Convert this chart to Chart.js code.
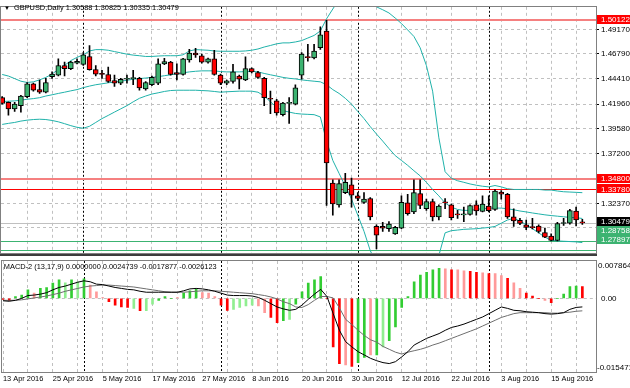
<!DOCTYPE html>
<html><head><meta charset="utf-8">
<script src="https://cdn.jsdelivr.net/npm/chart.js@4.4.0/dist/chart.umd.min.js"></script>
<style>
html,body{margin:0;padding:0;background:#fff;overflow:hidden;}
#wrap{position:relative;width:630px;height:388px;background:#fff;}
canvas{position:absolute;left:0;}
#main{top:0;}
#macd{top:256px;}
</style></head><body>
<div id="wrap">
<canvas id="main" width="630" height="260"></canvas>
<canvas id="macd" width="630" height="132"></canvas>
</div>
<script>
// ---------- DATA ----------
const symbolTitle = 'GBPUSD,Daily 1.30588 1.30825 1.30335 1.30479';
const macdTitle = 'MACD-2 (13,17,9) 0.0000000 0.0024739 -0.0017877 -0.0026123';
const xTickLabels = ['13 Apr 2016','25 Apr 2016','5 May 2016','17 May 2016','27 May 2016','8 Jun 2016','20 Jun 2016','30 Jun 2016','12 Jul 2016','22 Jul 2016','3 Aug 2016','15 Aug 2016'];
const monthStarts = [13,35,57,78];
const priceTicks = [1.29990,1.32370,1.34790,1.37200,1.39580,1.41960,1.44410,1.46790,1.49170];

const opens = [1.4257,1.4211,1.4149,1.4180,1.4267,1.4391,1.4335,1.4310,1.4460,1.4475,
1.4568,1.4537,1.4590,1.4578,1.4655,1.4528,1.4491,1.4481,1.4422,1.4397,
1.4435,1.4441,1.4444,1.4341,1.4382,1.4397,1.4584,1.4600,1.4500,1.4481,
1.4621,1.4687,1.4662,1.4600,1.4631,1.4475,1.4397,1.4413,1.4466,1.4428,
1.4537,1.4500,1.4444,1.4245,1.4226,1.4093,1.4202,1.4195,1.4475,1.4646,
1.4640,1.4739,1.4901,1.3433,1.3222,1.3340,1.3415,1.3309,1.3247,1.3284,
1.3014,1.3014,1.2992,1.2942,1.2998,1.3241,1.3154,1.3331,1.3185,1.3253,
1.3107,1.3244,1.3222,1.3129,1.3126,1.3129,1.3222,1.3160,1.3210,1.3178,
1.3346,1.3325,1.3107,1.3073,1.3030,1.3005,1.3017,1.2955,1.2920,1.2880,
1.3042,1.3045,1.3163,1.30588];
const highs = [1.4267,1.4217,1.4211,1.4279,1.4404,1.4397,1.4428,1.4444,1.4506,1.4631,
1.4600,1.4609,1.4631,1.4693,1.4761,1.4568,1.4522,1.4553,1.4475,1.4444,
1.4475,1.4522,1.4453,1.4413,1.4466,1.4631,1.4637,1.4609,1.4584,1.4637,
1.4724,1.4733,1.4677,1.4640,1.4714,1.4484,1.4428,1.4578,1.4475,1.4652,
1.4546,1.4512,1.4453,1.4320,1.4242,1.4211,1.4257,1.4382,1.4693,1.4771,
1.4771,1.4942,1.5004,1.3465,1.3465,1.3527,1.3480,1.3340,1.3340,1.3293,
1.3030,1.3054,1.3061,1.3014,1.3309,1.3325,1.3465,1.3465,1.3278,1.3278,
1.3222,1.3284,1.3231,1.3169,1.3200,1.3222,1.3262,1.3309,1.3309,1.3371,
1.3359,1.3334,1.3185,1.3092,1.3076,1.3092,1.3030,1.2998,1.2942,1.3054,
1.3092,1.3178,1.3200,1.30825];
const lows = [1.4195,1.4087,1.4124,1.4118,1.4257,1.4320,1.4298,1.4304,1.4444,1.4466,
1.4466,1.4528,1.4584,1.4568,1.4522,1.4466,1.4444,1.4404,1.4366,1.4382,
1.4397,1.4382,1.4329,1.4329,1.4373,1.4382,1.4575,1.4475,1.4428,1.4475,
1.4600,1.4646,1.4590,1.4590,1.4475,1.4382,1.4382,1.4397,1.4341,1.4422,
1.4497,1.4444,1.4180,1.4102,1.4087,1.4080,1.4009,1.4186,1.4435,1.4609,
1.4631,1.4724,1.3216,1.3123,1.3200,1.3331,1.3200,1.3262,1.3237,1.3076,
1.2796,1.2967,1.2967,1.2936,1.2992,1.3123,1.3138,1.3185,1.3169,1.3067,
1.3076,1.3185,1.3076,1.3092,1.3061,1.3123,1.3123,1.3154,1.3154,1.3169,
1.3278,1.3092,1.3014,1.3030,1.2983,1.2989,1.2952,1.2905,1.2874,1.2874,
1.3023,1.3036,1.3020,1.30335];
const closes = [1.4202,1.4149,1.4195,1.4273,1.4391,1.4329,1.4310,1.4404,1.4484,1.4568,
1.4537,1.4600,1.4609,1.4671,1.4528,1.4484,1.4481,1.4413,1.4397,1.4435,
1.4441,1.4444,1.4351,1.4404,1.4453,1.4584,1.4606,1.4481,1.4481,1.4631,
1.4687,1.4671,1.4600,1.4631,1.4481,1.4397,1.4419,1.4506,1.4435,1.4537,
1.4506,1.4453,1.4257,1.4242,1.4111,1.4205,1.4205,1.4351,1.4677,1.4643,
1.4708,1.4864,1.3626,1.3231,1.3427,1.3440,1.3315,1.3284,1.3278,1.3107,
1.2930,1.2998,1.3036,1.3005,1.3247,1.3138,1.3340,1.3216,1.3253,1.3107,
1.3210,1.3241,1.3098,1.3126,1.3129,1.3216,1.3163,1.3231,1.3166,1.3356,
1.3325,1.3107,1.3067,1.3042,1.3005,1.3002,1.2967,1.2911,1.2880,1.3042,
1.3045,1.3166,1.3076,1.30479];

const bbUpper = [1.4481,1.4466,1.4441,1.4416,1.4404,1.4410,1.4429,1.4453,1.4485,1.4531,
1.4568,1.4615,1.4646,1.4671,1.4708,1.4721,1.4721,1.4715,1.4702,1.4690,
1.4677,1.4668,1.4662,1.4655,1.4655,1.4659,1.4662,1.4662,1.4662,1.4671,
1.4708,1.4721,1.4718,1.4715,1.4708,1.4705,1.4705,1.4705,1.4705,1.4708,
1.4715,1.4727,1.4746,1.4761,1.4777,1.4786,1.4786,1.4795,1.4808,1.4833,
1.4858,1.4901,1.5019,1.5113,1.5206,1.5284,1.5315,1.5315,1.5284,1.5206,
1.5134,1.5106,1.5075,1.5026,1.4973,1.4911,1.4848,1.4739,1.4568,1.4320,
1.3869,1.3542,1.3480,1.3455,1.3440,1.3424,1.3412,1.3402,1.3396,1.3409,
1.3396,1.3378,1.3371,1.3371,1.3371,1.3371,1.3371,1.3365,1.3365,1.3356,
1.3349,1.3346,1.3343,1.3340];
const bbMiddle = [1.4220,1.4223,1.4226,1.4233,1.4242,1.4248,1.4257,1.4273,1.4285,1.4298,
1.4310,1.4323,1.4335,1.4354,1.4369,1.4382,1.4391,1.4401,1.4407,1.4416,
1.4425,1.4435,1.4441,1.4447,1.4453,1.4460,1.4469,1.4478,1.4488,1.4497,
1.4506,1.4512,1.4516,1.4516,1.4516,1.4509,1.4506,1.4506,1.4506,1.4509,
1.4512,1.4506,1.4491,1.4478,1.4466,1.4453,1.4444,1.4438,1.4429,1.4422,
1.4416,1.4410,1.4382,1.4335,1.4298,1.4251,1.4195,1.4124,1.4055,1.3978,
1.3906,1.3838,1.3766,1.3698,1.3651,1.3604,1.3552,1.3502,1.3440,1.3371,
1.3309,1.3241,1.3200,1.3178,1.3169,1.3169,1.3178,1.3185,1.3191,1.3191,
1.3191,1.3185,1.3175,1.3163,1.3154,1.3144,1.3135,1.3126,1.3119,1.3113,
1.3107,1.3101,1.3098,1.3091];
const bbLower = [1.3999,1.4009,1.4018,1.4031,1.4040,1.4046,1.4049,1.4046,1.4037,1.4024,
1.4006,1.3987,1.3971,1.3962,1.3981,1.4018,1.4055,1.4086,1.4118,1.4149,
1.4180,1.4217,1.4251,1.4273,1.4292,1.4304,1.4317,1.4326,1.4329,1.4329,
1.4329,1.4329,1.4326,1.4323,1.4317,1.4310,1.4314,1.4317,1.4320,1.4320,
1.4320,1.4310,1.4273,1.4217,1.4164,1.4133,1.4118,1.4105,1.4099,1.4096,
1.4093,1.4071,1.3838,1.3651,1.3527,1.3402,1.3278,1.3123,1.2967,1.2781,
1.2656,1.2609,1.2578,1.2563,1.2563,1.2569,1.2578,1.2594,1.2619,1.2656,
1.2734,1.2952,1.2973,1.2979,1.2986,1.2989,1.2992,1.2998,1.3004,1.3014,
1.3045,1.3076,1.3092,1.3067,1.3030,1.2992,1.2952,1.2911,1.2880,1.2874,
1.2871,1.2868,1.2865,1.2858];

const resistanceLevels = [1.50122,1.34800,1.33780];
const supportLevels = [1.28758,1.27897];
const lastPrice = 1.30479;

const macdHist = [-0.0002,-0.0005,0.0004,0.0007,0.0018,0.0011,0.0021,0.0023,0.0032,0.0039,
0.0033,0.0039,0.0035,0.0041,0.0028,0.0014,0.0002,-0.0007,-0.0014,-0.0018,
-0.0019,-0.0021,-0.0026,-0.0026,-0.0012,-0.0004,0.0004,0.0000,0.0002,0.0011,
0.0016,0.0019,0.0012,0.0011,0.0004,-0.0014,-0.0025,-0.0023,-0.0019,-0.0016,
-0.0014,-0.0016,-0.0030,-0.0040,-0.0051,-0.0047,-0.0044,-0.0012,0.0014,0.0032,
0.0039,0.0046,0.0000,-0.0102,-0.0137,-0.0140,-0.0143,-0.0135,-0.0124,-0.0119,
-0.0119,-0.0102,-0.0089,-0.0060,-0.0019,0.0004,0.0035,0.0049,0.0055,0.0060,
0.0063,0.0062,0.0060,0.0060,0.0058,0.0057,0.0055,0.0054,0.0052,0.0052,
0.0048,0.0042,0.0033,0.0021,0.0011,0.0005,0.0000,-0.0004,-0.0009,0.0000,
0.0009,0.0025,0.0026,0.0024739];
const macdHistTone = 'RRGGGrGGGGgGgGrrrRRRRgRggGGGrGGGrrrRRggggrrRRGgGGGGGRRRrRGGrGgGGGGGGGGGrRrrRRrRrrRrrRRRrRGGGGR';
const macdMain = [-0.0005,-0.0006,-0.0004,0.0000,0.0006,0.0007,0.0009,0.0012,0.0018,0.0023,
0.0026,0.0030,0.0034,0.0037,0.0035,0.0030,0.0029,0.0026,0.0023,0.0021,
0.0019,0.0018,0.0015,0.0013,0.0013,0.0013,0.0013,0.0013,0.0013,0.0016,
0.0020,0.0021,0.0020,0.0018,0.0015,0.0011,0.0007,0.0006,0.0006,0.0006,
0.0005,0.0002,-0.0004,-0.0011,-0.0018,-0.0022,-0.0025,-0.0023,-0.0014,-0.0002,
0.0009,0.0019,0.0004,-0.0032,-0.0067,-0.0091,-0.0102,-0.0112,-0.0119,-0.0126,
-0.0131,-0.0135,-0.0137,-0.0133,-0.0123,-0.0112,-0.0098,-0.0091,-0.0084,-0.0079,
-0.0074,-0.0067,-0.0061,-0.0058,-0.0054,-0.0049,-0.0044,-0.0039,-0.0032,-0.0025,
-0.0018,-0.0021,-0.0025,-0.0026,-0.0028,-0.0029,-0.0030,-0.0032,-0.0033,-0.0032,
-0.0030,-0.0023,-0.0019,-0.0017877];
const macdSignal = [-0.0004,-0.0004,-0.0004,-0.0003,-0.0001,0.0001,0.0003,0.0005,0.0008,0.0011,
0.0015,0.0018,0.0021,0.0024,0.0026,0.0027,0.0028,0.0028,0.0027,0.0026,
0.0025,0.0024,0.0022,0.0020,0.0018,0.0016,0.0014,0.0013,0.0013,0.0013,
0.0014,0.0015,0.0016,0.0016,0.0016,0.0015,0.0014,0.0013,0.0012,0.0011,
0.0010,0.0008,0.0006,0.0003,-0.0001,-0.0007,-0.0011,-0.0018,-0.0019,-0.0013,
-0.0004,0.0004,0.0004,0.0001,-0.0020,-0.0044,-0.0055,-0.0067,-0.0078,-0.0087,
-0.0092,-0.0101,-0.0107,-0.0113,-0.0117,-0.0113,-0.0110,-0.0107,-0.0103,-0.0098,
-0.0094,-0.0089,-0.0084,-0.0079,-0.0074,-0.0069,-0.0064,-0.0058,-0.0052,-0.0046,
-0.0040,-0.0036,-0.0032,-0.0030,-0.0030,-0.0030,-0.0030,-0.0030,-0.0031,-0.0031,
-0.0030,-0.0029,-0.0027,-0.0026123];
const macdScaleMax = 0.007864;
const macdScaleMin = -0.015471;

// ---------- STYLE ----------
const FONT = "'Liberation Sans', Arial, sans-serif";
Chart.defaults.font.family = FONT;
Chart.defaults.color = '#000';
const BULL = '#3cb371', BEAR = '#ff0000', BAND = '#20b2aa';
const GRID = '#c0c0c0';
const toneColor = {G:'#32cd32', g:'#90ee90', R:'#ff0000', r:'#ff9a9a'};
const X_MIN = -0.19, X_MAX = 95.19;

const idx = opens.map((_, i) => i);
const gridTicks = [];
for (let i = 4; i < X_MAX; i += 4) gridTicks.push(i);

function xScale(showLabels) {
  return {
    type: 'linear', min: X_MIN, max: X_MAX, offset: false,
    grid: { color: GRID, lineWidth: 1, drawTicks: false, offset: false },
    border: { display: false, dash: [3, 3] },
    afterBuildTicks: s => { s.ticks = (showLabels ? [0].concat(gridTicks) : gridTicks).map(v => ({ value: v })); },
    ticks: {
      display: showLabels, autoSkip: false, maxRotation: 0, align: 'start', padding: 3,
      font: { size: 7.4 },
      callback: v => (v % 8 === 0 && xTickLabels[v / 8]) ? xTickLabels[v / 8] : ''
    },
    afterFit: s => { s.height = showLabels ? 16 : 0; }
  };
}

function hband(ctx, a, py, color, h) {
  ctx.fillStyle = color;
  ctx.fillRect(a.left, Math.round(py), a.right - a.left, h);
}
function separators(chart) {
  const { ctx, chartArea: a, scales: { x } } = chart;
  ctx.save();
  ctx.strokeStyle = '#000'; ctx.lineWidth = 1; ctx.setLineDash([2, 2]);
  monthStarts.forEach(i => {
    const px = Math.round(x.getPixelForValue(i)) + 0.5;
    ctx.beginPath(); ctx.moveTo(px, a.top); ctx.lineTo(px, a.bottom); ctx.stroke();
  });
  ctx.restore();
}
function frame(chart, bottomDark) {
  const { ctx, chartArea: a } = chart;
  ctx.save(); ctx.strokeStyle = '#808080'; ctx.lineWidth = 1;
  ctx.strokeRect(Math.round(a.left) - 0.5, Math.round(a.top) - 0.5, Math.round(a.right - a.left) + 1, Math.round(a.bottom - a.top) + 1);
  if (bottomDark) {
    ctx.fillStyle = '#3c3c3c';
    ctx.fillRect(0, Math.round(a.bottom) + 1, a.right + 1, 2);
  }
  ctx.restore();
}

// ---------- MAIN PRICE CHART ----------
const mainDecor = {
  id: 'mainDecor',
  beforeDatasetsDraw(chart) {
    const { ctx, chartArea: a, scales: { y } } = chart;
    separators(chart);
    ctx.save();
    hband(ctx, a, y.getPixelForValue(lastPrice), '#c0c0c0', 1);
    supportLevels.forEach(p => hband(ctx, a, y.getPixelForValue(p), '#3cb371', 1));
    resistanceLevels.forEach((p, k) => {
      if (k === 2) hband(ctx, a, y.getPixelForValue(p), '#ff0000', 1);
      else hband(ctx, a, y.getPixelForValue(p) - 0.5, '#f58080', 2);
    });
    ctx.restore();
  },
  afterDraw(chart) {
    const { ctx, chartArea: a, scales: { y } } = chart;
    frame(chart, true);
    ctx.save();
    const boxes = [];
    resistanceLevels.forEach(p => boxes.push({ p, bg: '#ff0000' }));
    boxes.push({ p: lastPrice, bg: '#000000' });
    supportLevels.forEach(p => boxes.push({ p, bg: '#3cb371' }));
    boxes.forEach(b => b.cy = y.getPixelForValue(b.p));
    boxes.sort((m, n) => n.cy - m.cy);
    const H = 9;
    let limit = a.bottom - 14;
    boxes.forEach(b => { b.cy = Math.min(b.cy, limit); limit = b.cy - H; });
    ctx.font = '8px ' + FONT; ctx.textBaseline = 'middle';
    boxes.forEach(b => {
      ctx.fillStyle = b.bg;
      ctx.fillRect(a.right + 1, Math.round(b.cy - H / 2), 630 - a.right - 1, H);
      ctx.fillStyle = '#fff';
      ctx.fillText(b.p.toFixed(5), a.right + 5, Math.round(b.cy) + 0.5);
    });
    ctx.fillStyle = '#000';
    ctx.font = '6px ' + FONT;
    ctx.fillText('\u25BC', a.left + 3, 8);
    ctx.font = '7.4px ' + FONT;
    ctx.fillText(symbolTitle, a.left + 13, 8);
    ctx.restore();
  }
};

new Chart(document.getElementById('main'), {
  type: 'bar',
  data: {
    datasets: [
      { type: 'bar', label: 'body', order: 0, grouped: false, barThickness: 5, minBarLength: 1,
        data: idx.map(i => ({ x: i, y: [opens[i], closes[i]] })),
        backgroundColor: idx.map(i => closes[i] >= opens[i] ? BULL : BEAR),
        borderColor: '#000', borderWidth: 1, borderSkipped: false },
      { type: 'bar', label: 'wick', order: 1, grouped: false, barThickness: 1,
        data: idx.map(i => ({ x: i, y: [lows[i], highs[i]] })),
        backgroundColor: '#000', borderWidth: 0 },
      { type: 'line', label: 'upper', order: 2, data: idx.map(i => ({ x: i, y: bbUpper[i] })),
        borderColor: BAND, borderWidth: 1, pointRadius: 0, tension: 0 },
      { type: 'line', label: 'middle', order: 2, data: idx.map(i => ({ x: i, y: bbMiddle[i] })),
        borderColor: BAND, borderWidth: 1, pointRadius: 0, tension: 0 },
      { type: 'line', label: 'lower', order: 2, data: idx.map(i => ({ x: i, y: bbLower[i] })),
        borderColor: BAND, borderWidth: 1, pointRadius: 0, tension: 0 }
    ]
  },
  options: {
    responsive: false, animation: false, devicePixelRatio: 1,
    layout: { padding: { left: 1, top: 1, right: 0, bottom: 4 } },
    plugins: { legend: { display: false }, tooltip: { enabled: false } },
    scales: {
      x: xScale(false),
      y: {
        type: 'linear', position: 'right', min: 1.27556, max: 1.51344, beginAtZero: false,
        afterBuildTicks: s => { s.ticks = priceTicks.map(v => ({ value: v })); },
        grid: { color: GRID, drawTicks: true, tickLength: 3, tickColor: '#000', tickBorderDash: [] },
        border: { display: false, dash: [3, 3] },
        ticks: { padding: 2, font: { size: 8 }, callback: v => Number(v).toFixed(5) },
        afterFit: s => { s.width = 34; }
      }
    }
  },
  plugins: [mainDecor]
});

// ---------- MACD CHART ----------
const macdDecor = {
  id: 'macdDecor',
  beforeDatasetsDraw(chart) { separators(chart); },
  afterDraw(chart) {
    const { ctx, chartArea: a, scales: { y } } = chart;
    frame(chart, false);
    ctx.save();
    ctx.fillStyle = '#000'; ctx.font = '7.4px ' + FONT; ctx.textBaseline = 'middle';
    ctx.fillText(macdTitle, a.left + 2, a.top + 6);
    ctx.font = '8px ' + FONT;
    ctx.fillText(macdScaleMax.toFixed(6), a.right + 2, y.getPixelForValue(macdScaleMax) + 5);
    ctx.fillText('0.00', a.right + 5, y.getPixelForValue(0));
    ctx.fillText(macdScaleMin.toFixed(6), a.right + 1, y.getPixelForValue(macdScaleMin) - 4);
    ctx.restore();
  }
};

new Chart(document.getElementById('macd'), {
  type: 'bar',
  data: {
    datasets: [
      { type: 'line', label: 'main', order: 0, data: idx.map(i => ({ x: i, y: macdMain[i] })),
        borderColor: '#000', borderWidth: 1, pointRadius: 0, tension: 0 },
      { type: 'line', label: 'signal', order: 1, data: idx.map(i => ({ x: i, y: macdSignal[i] })),
        borderColor: '#6e6e6e', borderWidth: 1, pointRadius: 0, tension: 0 },
      { type: 'bar', label: 'hist', order: 2, grouped: false, barThickness: 2,
        data: idx.map(i => ({ x: i, y: macdHist[i] })),
        backgroundColor: idx.map(i => toneColor[macdHistTone[i]]), borderWidth: 0 }
    ]
  },
  options: {
    responsive: false, animation: false, devicePixelRatio: 1,
    layout: { padding: { left: 1, top: 5, right: 0, bottom: 0 } },
    plugins: { legend: { display: false }, tooltip: { enabled: false } },
    scales: {
      x: xScale(true),
      y: {
        type: 'linear', position: 'right', min: macdScaleMin, max: macdScaleMax, beginAtZero: false,
        afterBuildTicks: s => { s.ticks = [{ value: 0 }]; },
        grid: { color: GRID, drawTicks: false },
        border: { display: false, dash: [3, 3] },
        ticks: { display: false },
        afterFit: s => { s.width = 34; }
      }
    }
  },
  plugins: [macdDecor]
});
</script>
</body></html>
